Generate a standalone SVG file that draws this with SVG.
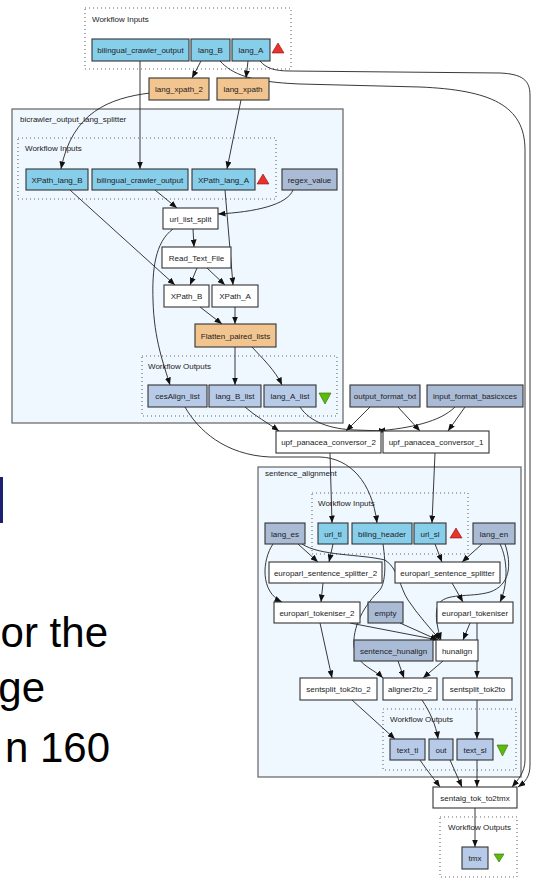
<svg xmlns="http://www.w3.org/2000/svg" width="533" height="878" viewBox="0 0 533 878">
<style>
.bg{fill:#fff}
.cl{fill:#F0F8FF;stroke:#6e6e6e;stroke-width:1.3}
.dot{fill:none;stroke:#666;stroke-width:1.1;stroke-dasharray:1 3}
.n rect{stroke:#333;stroke-width:1.1}
.in{fill:#87CEEB}
.pr{fill:#fff}
.be{fill:#F2C48F}
.co{fill:#AABBD6}
.ou{fill:#B7CBE8}
text{font-family:"Liberation Sans",Arial,sans-serif;fill:#222}
.t{font-size:8px;text-anchor:middle}
.lb{font-size:8px}
.big{font-size:42px;fill:#000;text-anchor:end}
#edges path{fill:none;stroke:#222;stroke-width:0.9;marker-end:url(#arr)}
.tr{fill:#E8322B;stroke:#8a1010;stroke-width:0.6}
.tg{fill:#5DBB0B;stroke:#2f6a00;stroke-width:0.6}
</style>
<defs>
<marker id="arr" viewBox="0 0 10 8" refX="10" refY="4" markerWidth="7.5" markerHeight="6" markerUnits="userSpaceOnUse" orient="auto"><path d="M0,0 L10,4 L0,8 z" fill="#111"/></marker>
</defs>
<rect class="bg" width="533" height="878"/>

<!-- slide background fragments -->
<rect x="0" y="477" width="3" height="46" fill="#1d2070"/>
<text class="big" x="108" y="647">or the</text>
<text class="big" x="45" y="702">ge</text>
<text class="big" x="110" y="762">n 160</text>

<!-- clusters -->
<g id="top_inputs"><rect class="dot" x="85" y="8" width="206" height="61"/><text class="lb" x="92" y="22">Workflow Inputs</text></g>
<g id="cluster_bicrawler">
<rect class="cl" x="12" y="109" width="331" height="314"/>
<text class="lb" x="20" y="122">bicrawler_output_lang_splitter</text>
<rect class="dot" x="18" y="138" width="258" height="61"/><text class="lb" x="25" y="151">Workflow Inputs</text>
<rect class="dot" x="142" y="356" width="195" height="60"/><text class="lb" x="148" y="369">Workflow Outputs</text>
</g>
<g id="cluster_sentence_alignment">
<rect class="cl" x="258" y="467" width="263" height="310"/>
<text class="lb" x="265" y="476">sentence_alignment</text>
<rect class="dot" x="312" y="493" width="156" height="61"/><text class="lb" x="318" y="506">Workflow Inputs</text>
<rect class="dot" x="383" y="709" width="133" height="61"/><text class="lb" x="390" y="722">Workflow Outputs</text>
</g>
<g id="bottom_outputs"><rect class="dot" x="440" y="817" width="77" height="60"/><text class="lb" x="448" y="830">Workflow Outputs</text></g>

<!-- connectors -->
<g id="edges">
<path d="M201,61 L192,78"/>
<path d="M248,61 L246,78"/>
<path d="M140,61 L140,169"/>
<path d="M150,93 C110,98 72,112 61,169"/>
<path d="M241,100 L227,169"/>
<path d="M220,61 C232,74 250,82 300,84 L420,87 C490,90 525,105 525,150 L525,760 C525,772 518,780 512,787"/>
<path d="M260,61 C266,68 274,71 290,71 L500,73 C522,74 530,80 530,95 L530,765 C530,777 525,782 518,787"/>
<path d="M155,190 L177,208"/>
<path d="M293,190 C287,205 255,212 218,214"/>
<path d="M70,190 L175,285"/>
<path d="M225,190 L233,285"/>
<path d="M193,229 L194,247"/>
<path d="M173,229 C155,242 152,270 153,300 C154,340 164,365 170,385"/>
<path d="M197,268 L190,285"/>
<path d="M207,268 L225,285"/>
<path d="M200,307 L222,324"/>
<path d="M235,307 L235,324"/>
<path d="M235,347 L235,385"/>
<path d="M252,347 C262,358 275,370 282,385"/>
<path d="M185,407 C198,430 225,455 270,457 L320,457 C350,458 372,482 377,523"/>
<path d="M245,407 C255,416 268,423 279,431"/>
<path d="M300,407 C310,422 330,429 355,430 L386,431"/>
<path d="M370,407 L346,431"/>
<path d="M398,407 L420,431"/>
<path d="M455,407 C440,422 410,428 378,431"/>
<path d="M465,407 L448,431"/>
<path d="M330,453 L332,523"/>
<path d="M435,453 L432,523"/>
<path d="M298,544 L318,562"/>
<path d="M333,544 L329,562"/>
<path d="M435,544 L442,562"/>
<path d="M482,544 L462,562"/>
<path d="M273,544 C262,560 260,592 282,602"/>
<path d="M302,544 C320,556 360,554 385,560 C398,568 400,588 408,600 C418,615 430,628 440,640"/>
<path d="M500,544 C508,560 508,585 500,602"/>
<path d="M505,544 C512,565 510,585 490,592 C470,598 445,592 438,605 C434,615 438,630 441,640"/>
<path d="M323,583 L321,602"/>
<path d="M452,583 L463,602"/>
<path d="M383,544 C386,565 386,585 378,592 C362,608 350,632 355,652 C360,666 375,670 383,678"/>
<path d="M350,623 L438,640"/>
<path d="M400,623 L438,640"/>
<path d="M320,623 L332,678"/>
<path d="M470,623 L463,640"/>
<path d="M477,623 L477,678"/>
<path d="M398,661 L404,678"/>
<path d="M443,661 L423,678"/>
<path d="M352,700 L395,739"/>
<path d="M422,700 C430,712 436,725 438,739"/>
<path d="M477,700 L477,739"/>
<path d="M420,760 C428,772 435,780 440,787"/>
<path d="M450,760 L462,787"/>
<path d="M477,760 L477,787"/>
<path d="M475,808 L475,847"/>
</g>

<!-- nodes: top level -->
<g id="in_bilingual_crawler_output" class="n"><rect class="in" x="92" y="39" width="97" height="22"/><text class="t" x="140.5" y="53">bilingual_crawler_output</text></g>
<g id="in_lang_B" class="n"><rect class="in" x="191" y="39" width="39" height="22"/><text class="t" x="210.5" y="53">lang_B</text></g>
<g id="in_lang_A" class="n"><rect class="in" x="232" y="39" width="38" height="22"/><text class="t" x="251" y="53">lang_A</text></g>
<polygon class="tr" points="272,53 284,53 278,43"/>
<g id="lang_xpath_2" class="n"><rect class="be" x="149" y="78" width="60" height="22"/><text class="t" x="179" y="92">lang_xpath_2</text></g>
<g id="lang_xpath" class="n"><rect class="be" x="217" y="78" width="52" height="22"/><text class="t" x="243" y="92">lang_xpath</text></g>

<!-- bicrawler nodes -->
<g id="bc_XPath_lang_B" class="n"><rect class="in" x="26" y="169" width="62" height="21"/><text class="t" x="57" y="182.5">XPath_lang_B</text></g>
<g id="bc_bilingual_crawler_output" class="n"><rect class="in" x="92" y="169" width="96" height="21"/><text class="t" x="140" y="182.5">bilingual_crawler_output</text></g>
<g id="bc_XPath_lang_A" class="n"><rect class="in" x="192" y="169" width="63" height="21"/><text class="t" x="223.5" y="182.5">XPath_lang_A</text></g>
<polygon class="tr" points="257,184 269,184 263,174"/>
<g id="regex_value" class="n"><rect class="co" x="282" y="169" width="55" height="21"/><text class="t" x="309.5" y="182.5">regex_value</text></g>
<g id="url_list_split" class="n"><rect class="pr" x="163" y="208" width="55" height="21"/><text class="t" x="190.5" y="221.5">url_list_split</text></g>
<g id="Read_Text_File" class="n"><rect class="pr" x="162" y="247" width="69" height="21"/><text class="t" x="196.5" y="260.5">Read_Text_File</text></g>
<g id="XPath_B" class="n"><rect class="pr" x="164" y="285" width="45" height="22"/><text class="t" x="186.5" y="299">XPath_B</text></g>
<g id="XPath_A" class="n"><rect class="pr" x="212" y="285" width="46" height="22"/><text class="t" x="235" y="299">XPath_A</text></g>
<g id="Flatten_paired_lists" class="n"><rect class="be" x="195" y="324" width="81" height="23"/><text class="t" x="235.5" y="338.5">Flatten_paired_lists</text></g>
<g id="out_cesAlign_list" class="n"><rect class="ou" x="148" y="385" width="59" height="22"/><text class="t" x="177.5" y="399">cesAlign_list</text></g>
<g id="out_lang_B_list" class="n"><rect class="ou" x="209" y="385" width="52" height="22"/><text class="t" x="235" y="399">lang_B_list</text></g>
<g id="out_lang_A_list" class="n"><rect class="ou" x="264" y="385" width="52" height="22"/><text class="t" x="290" y="399">lang_A_list</text></g>
<polygon class="tg" points="319,393 331,393 325,404"/>

<!-- conversors -->
<g id="output_format_txt" class="n"><rect class="co" x="350" y="385" width="70" height="22"/><text class="t" x="385" y="399">output_format_txt</text></g>
<g id="input_format_basicxces" class="n"><rect class="co" x="427" y="385" width="96" height="22"/><text class="t" x="475" y="399">input_format_basicxces</text></g>
<g id="upf_panacea_conversor_2" class="n"><rect class="pr" x="276" y="431" width="105" height="22"/><text class="t" x="328.5" y="445">upf_panacea_conversor_2</text></g>
<g id="upf_panacea_conversor_1" class="n"><rect class="pr" x="383" y="431" width="106" height="22"/><text class="t" x="436" y="445">upf_panacea_conversor_1</text></g>

<!-- sentence_alignment nodes -->
<g id="lang_es" class="n"><rect class="co" x="265" y="523" width="40" height="21"/><text class="t" x="285" y="536.5">lang_es</text></g>
<g id="sa_url_tl" class="n"><rect class="in" x="318" y="523" width="30" height="21"/><text class="t" x="333" y="536.5">url_tl</text></g>
<g id="sa_biling_header" class="n"><rect class="in" x="352" y="523" width="60" height="21"/><text class="t" x="382" y="536.5">biling_header</text></g>
<g id="sa_url_sl" class="n"><rect class="in" x="414" y="523" width="32" height="21"/><text class="t" x="430" y="536.5">url_sl</text></g>
<polygon class="tr" points="450,538 462,538 456,528"/>
<g id="lang_en" class="n"><rect class="co" x="473" y="523" width="42" height="21"/><text class="t" x="494" y="536.5">lang_en</text></g>
<g id="europarl_sentence_splitter_2" class="n"><rect class="pr" x="269" y="562" width="113" height="21"/><text class="t" x="325.5" y="575.5">europarl_sentence_splitter_2</text></g>
<g id="europarl_sentence_splitter" class="n"><rect class="pr" x="395" y="562" width="105" height="21"/><text class="t" x="447.5" y="575.5">europarl_sentence_splitter</text></g>
<g id="europarl_tokeniser_2" class="n"><rect class="pr" x="274" y="602" width="86" height="21"/><text class="t" x="317" y="615.5">europarl_tokeniser_2</text></g>
<g id="empty" class="n"><rect class="co" x="368" y="602" width="35" height="21"/><text class="t" x="385.5" y="615.5">empty</text></g>
<g id="europarl_tokeniser" class="n"><rect class="pr" x="437" y="602" width="76" height="21"/><text class="t" x="475" y="615.5">europarl_tokeniser</text></g>
<g id="sentence_hunalign" class="n"><rect class="co" x="354" y="640" width="79" height="21"/><text class="t" x="393.5" y="653.5">sentence_hunalign</text></g>
<g id="hunalign" class="n"><rect class="pr" x="436" y="640" width="42" height="21"/><text class="t" x="457" y="653.5">hunalign</text></g>
<g id="sentsplit_tok2to_2" class="n"><rect class="pr" x="300" y="678" width="77" height="22"/><text class="t" x="338.5" y="692">sentsplit_tok2to_2</text></g>
<g id="aligner2to_2" class="n"><rect class="pr" x="383" y="678" width="54" height="22"/><text class="t" x="410" y="692">aligner2to_2</text></g>
<g id="sentsplit_tok2to" class="n"><rect class="pr" x="443" y="678" width="69" height="22"/><text class="t" x="477.5" y="692">sentsplit_tok2to</text></g>
<g id="sa_text_tl" class="n"><rect class="ou" x="390" y="739" width="35" height="21"/><text class="t" x="407.5" y="752.5">text_tl</text></g>
<g id="sa_out" class="n"><rect class="ou" x="429" y="739" width="24" height="21"/><text class="t" x="441" y="752.5">out</text></g>
<g id="sa_text_sl" class="n"><rect class="ou" x="457" y="739" width="36" height="21"/><text class="t" x="475" y="752.5">text_sl</text></g>
<polygon class="tg" points="497,745 508,745 502.5,756"/>

<!-- final -->
<g id="sentalg_tok_to2tmx" class="n"><rect class="pr" x="433" y="787" width="84" height="21"/><text class="t" x="475" y="800.5">sentalg_tok_to2tmx</text></g>
<g id="out_tmx" class="n"><rect class="ou" x="462" y="847" width="26" height="22"/><text class="t" x="475" y="861">tmx</text></g>
<polygon class="tg" points="494,854 504,854 499,862"/>
</svg>
